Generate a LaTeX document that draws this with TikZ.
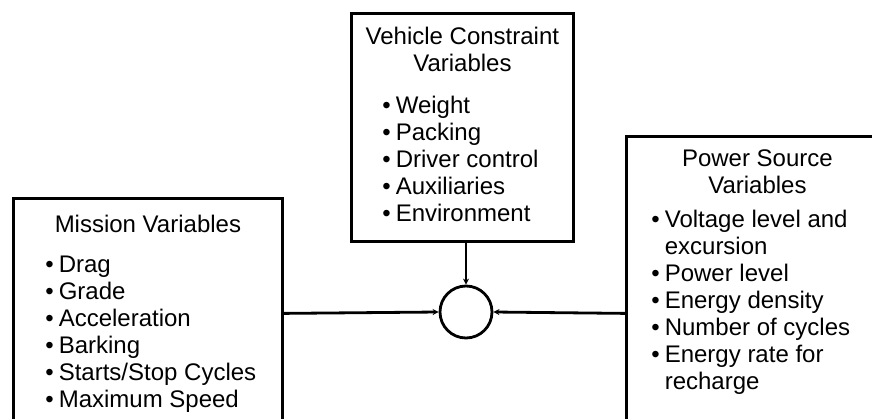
\documentclass[tikz,border=0pt]{standalone}
\usepackage{fontspec}
\setmainfont{Liberation Sans}
\usetikzlibrary{arrows.meta, positioning, calc}

\begin{document}
\begin{tikzpicture}[x=1pt, y=-1pt, >={Stealth[length=6pt, width=6pt]}, line width=2.8pt,
    varbox/.style={draw, anchor=north west, inner sep=0pt},
    boxtitle/.style={font=\fontsize{24}{27}\selectfont, align=center, inner sep=0pt},
    boxlist/.style={font=\fontsize{24}{27}\selectfont, anchor=north west, inner sep=0pt}]
  \useasboundingbox (0,0) rectangle (872,419);
  \clip (0,0) rectangle (872,419);

  % Variable boxes (open at the bottom of the page)
  \node[varbox, minimum width=269pt, minimum height=230pt] (mission) at (12,197) {};
  \node[varbox, minimum width=222pt, minimum height=228pt] (vehicle) at (350,12) {};
  \node[varbox, minimum width=262pt, minimum height=354pt] (power) at (625,135) {};

  % Titles
  \node[boxtitle, below=17pt of mission.north, anchor=north] (missiontitle) {Mission Variables};
  \node[boxtitle, below=14pt of vehicle.north, anchor=north] (vehicletitle) {Vehicle Constraint\\Variables};
  \node[boxtitle, below=13pt of power.north, anchor=north] (powertitle) {Power Source\\Variables};

  % Bullet lists
  \node[boxlist] (missionlist) at ($(mission.north west)+(32,55)$)
    {\begin{tabular}{@{}l@{\hspace{5pt}}l@{}}
      • & Drag\\ • & Grade\\ • & Acceleration\\ • & Barking\\
      • & Starts/Stop Cycles\\ • & Maximum Speed
    \end{tabular}};
  \node[boxlist] (vehiclelist) at ($(vehicle.north west)+(31,81)$)
    {\begin{tabular}{@{}l@{\hspace{5pt}}l@{}}
      • & Weight\\ • & Packing\\ • & Driver control\\ • & Auxiliaries\\ • & Environment
    \end{tabular}};
  \node[boxlist] (powerlist) at ($(power.north west)+(25,72)$)
    {\begin{tabular}{@{}l@{\hspace{5pt}}l@{}}
      • & Voltage level and\\ & excursion\\ • & Power level\\ • & Energy density\\
      • & Number of cycles\\ • & Energy rate for\\ & recharge
    \end{tabular}};

  % Summing junction
  \node[draw, circle, minimum size=52pt, inner sep=0pt] (hub) at (466,312) {};

  \draw[->] (mission.east) -- (hub.west);
  \draw[->] (power.west) -- (hub.east);
  \draw[->] (vehicle.south -| hub.north) -- (hub.north);
\end{tikzpicture}
\end{document}
